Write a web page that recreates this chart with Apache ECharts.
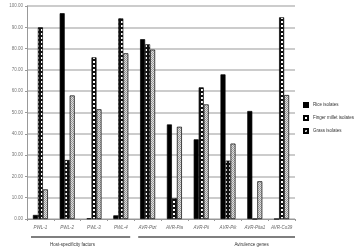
<!DOCTYPE html>
<html><head><meta charset="utf-8">
<script src="https://cdn.jsdelivr.net/npm/echarts@6/dist/echarts.min.js"></script>
<style>html,body{margin:0;padding:0;background:#fff}#c{width:360px;height:252px}</style>
</head><body><div id="c"></div>
<script>
const categories = ['PWL-1','PWL-2','PWL-3','PWL-4','AVR-Pizt','AVR-Pia','AVR-Pii','AVR-Pik','AVR-Pita1','AVR-Co39'];
const riceIsolates = [1.9, 96.6, 0.3, 1.7, 84.4, 44.4, 37.4, 67.9, 50.7, 0];
const fingerMilletIsolates = [90.0, 27.7, 75.9, 94.2, 82.0, 9.7, 61.8, 27.4, 0, 94.7];
const grassIsolates = [13.9, 58.0, 51.5, 77.8, 79.5, 43.3, 53.8, 35.4, 17.7, 58.2];
const seriesNames = ['Rice isolates','Finger millet isolates','Grass isolates'];
const groups = [{name:'Host-specificity factors', from:0, to:3},{name:'Avirulence genes', from:4, to:9}];
const yTicks = {min:0, max:100, interval:10};

function makePattern(draw, size){
  const c = document.createElement('canvas'); c.width = size; c.height = size;
  const g = c.getContext('2d'); draw(g); return c;
}
const fmPat = makePattern(g => {
  g.fillStyle = '#111'; g.fillRect(0,0,4,4);
  g.fillStyle = '#fff'; g.fillRect(1,1,2,2);
}, 4);
const grPat = makePattern(g => {
  g.fillStyle = '#e0e0e0'; g.fillRect(0,0,2,2);
  g.fillStyle = '#999'; g.fillRect(0,0,1,1); g.fillRect(1,1,1,1);
}, 2);

const chart = echarts.init(document.getElementById('c'), null, {renderer:'canvas'});
const font = 'Liberation Sans, Arial, sans-serif';
const barStyle = (fill) => ({color: fill, borderColor:'#000', borderWidth:0.7});
chart.setOption({
  animation:false,
  textStyle:{fontFamily:font},
  grid:{left:27, right:65, top:6, bottom:33, containLabel:false, outerBoundsMode:'none'},
  legend:{
    orient:'vertical', left:298, top:97, itemWidth:4, itemHeight:4, itemGap:7, icon:'rect',
    textStyle:{fontSize:4.5, color:'#333', fontFamily:font},
    data: seriesNames
  },
  xAxis:{
    type:'category', data:categories,
    axisLine:{lineStyle:{color:'#999', width:1}},
    axisTick:{show:true, length:2, lineStyle:{color:'#999'}},
    axisLabel:{interval:0, fontSize:4.5, fontStyle:'italic', color:'#666', margin:6, fontFamily:font}
  },
  yAxis:{
    type:'value', min:yTicks.min, max:yTicks.max, interval:yTicks.interval,
    name:'% of isolates', nameLocation:'middle', nameGap:21, nameRotate:90,
    nameTextStyle:{fontSize:4.5, color:'#333', fontFamily:font},
    axisLine:{show:true, lineStyle:{color:'#999'}},
    axisTick:{show:true, length:2, lineStyle:{color:'#999'}},
    axisLabel:{formatter:v=>v.toFixed(2), fontSize:4.5, color:'#777', margin:4, fontFamily:font},
    splitLine:{lineStyle:{color:'#bbb', width:1.5}}
  },
  series:[
    {name:seriesNames[0], type:'bar', data:riceIsolates, barWidth:5, barGap:'0%', itemStyle:barStyle('#000')},
    {name:seriesNames[1], type:'bar', data:fingerMilletIsolates, barWidth:5, barGap:'0%', itemStyle:barStyle({image:fmPat, repeat:'repeat'})},
    {name:seriesNames[2], type:'bar', data:grassIsolates, barWidth:5, barGap:'0%', itemStyle:barStyle({image:grPat, repeat:'repeat'})}
  ]
});
const half = (chart.convertToPixel({xAxisIndex:0}, categories[1]) - chart.convertToPixel({xAxisIndex:0}, categories[0]))/2;
const gfx = [];
groups.forEach((gp, i) => {
  const x1 = chart.convertToPixel({xAxisIndex:0}, categories[gp.from]) - half + 4;
  const x2 = chart.convertToPixel({xAxisIndex:0}, categories[gp.to]) + half - (i === groups.length - 1 ? 0 : 4);
  gfx.push({type:'line', shape:{x1:x1, y1:237, x2:x2, y2:237}, style:{stroke:'#555', lineWidth:1.5}});
  gfx.push({type:'text', x:(x1+x2)/2 + (i === 0 ? -8 : 35), y:245, style:{text:gp.name, fontSize:4.5, fill:'#333', align:'center', verticalAlign:'middle', fontFamily:font}});
});
chart.setOption({graphic:gfx});
</script>
</body></html>
